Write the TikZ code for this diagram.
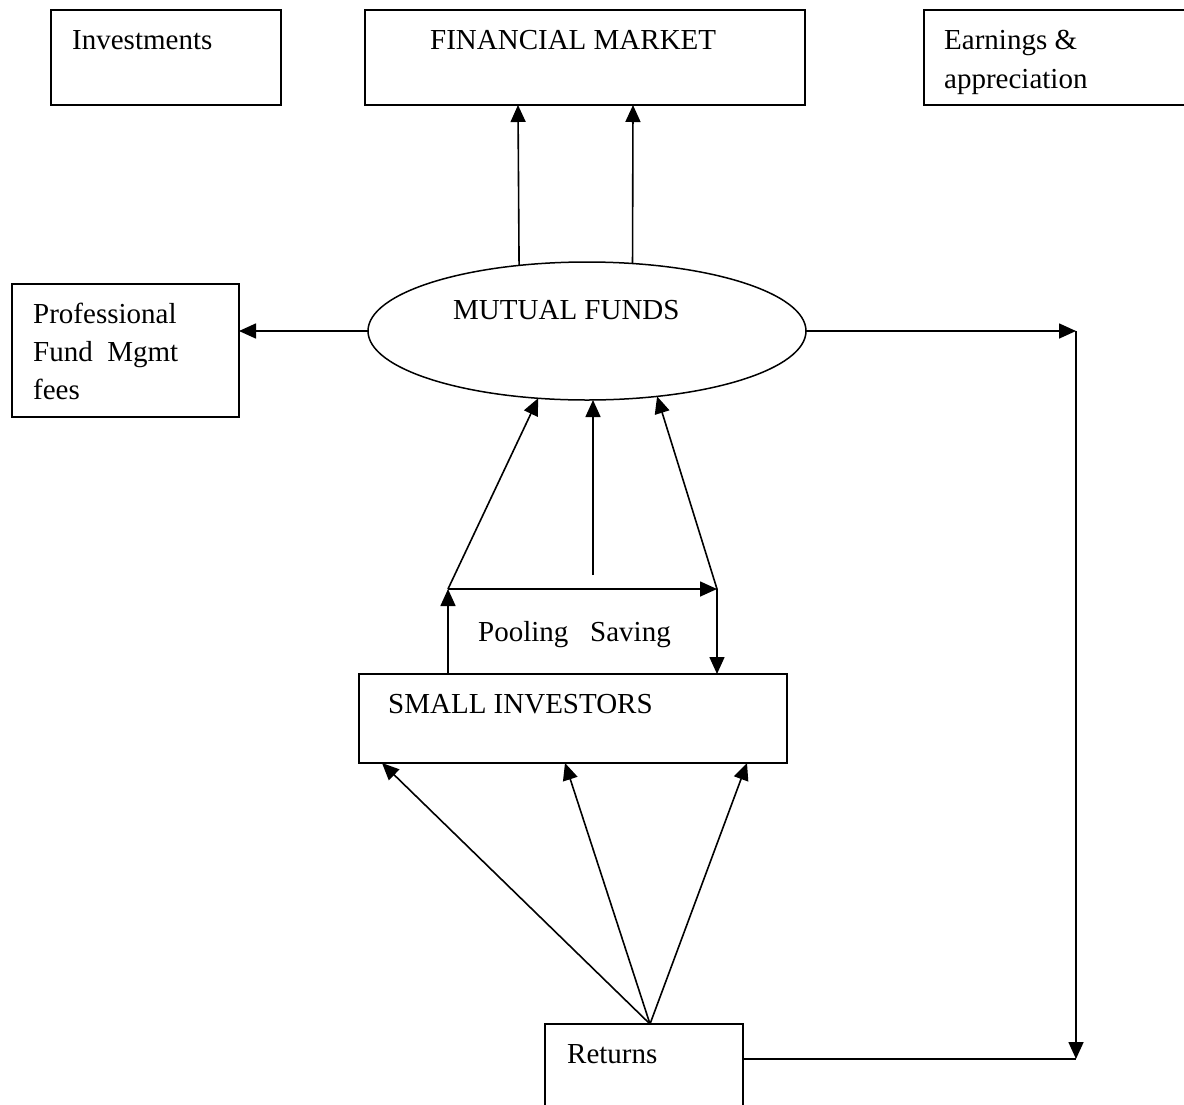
\documentclass[tikz,border=0pt]{standalone}
\usepackage{fontspec}
\setmainfont{Liberation Serif}
\usetikzlibrary{shapes.geometric,arrows.meta}

\begin{document}
\begin{tikzpicture}[x=1pt,y=-1pt,
  box/.style={draw,line width=1.6pt,anchor=north west,inner sep=0pt,outer sep=0pt},
  lbl/.style={anchor=base west,inner sep=0pt,font=\fontsize{29}{39}\selectfont},
  arr/.style={line width=1.6pt,-{Triangle[length=17pt,width=15pt]}},
  ln/.style={line width=1.6pt}]
           \useasboundingbox (0,0) rectangle (1184,1104);
           % top row
           \node[box,minimum width=230pt,minimum height=95pt] (inv) at (51,10) {};
           \node[lbl] (invt) at (72,49) {Investments};
           \node[box,minimum width=440pt,minimum height=95pt] (fm) at (365,10) {};
           \node[lbl] (fmt) at (430,49) {FINANCIAL MARKET};
           \node[box,minimum width=262pt,minimum height=95pt] (earn) at (924,10) {};
           \node[lbl] (earn1) at (944,49) {Earnings \&};
           \node[lbl] (earn2) at (944,88) {appreciation};
           % fees box
           \node[box,minimum width=227pt,minimum height=133pt] (prof) at (12,284) {};
           \node[lbl] (prof1) at (33,323) {Professional};
           \node[lbl] (prof2) at (33,361) {Fund~~Mgmt};
           \node[lbl] (prof3) at (33,399) {fees};
           % mutual funds
           \node[draw,ellipse,line width=1.5pt,minimum width=438pt,minimum height=138pt,
                 inner sep=0pt,outer sep=0pt] (mf) at (587,331) {};
           \node[lbl] (mft) at (453,319) {MUTUAL FUNDS};
           % investors and returns
           \node[box,minimum width=428pt,minimum height=89pt] (small) at (359,674) {};
           \node[lbl] (smallt) at (388,713) {SMALL INVESTORS};
           \node[lbl] (pool) at (478,641) {Pooling~~~Saving};
           \node[box,minimum width=198pt,minimum height=90pt] (ret) at (545,1024) {};
           \node[lbl] (rett) at (567,1063) {Returns};
           \coordinate (pl) at (448,589);
           \coordinate (pr) at (717,589);
           \coordinate (pm) at (593,575);
           \coordinate (rt) at (650,1024);
           \coordinate (c1) at (1076,331);
           \coordinate (c2) at (1076,1059);
           % arrows
           \draw[arr] (mf.136) -- ([xshift=-67pt]fm.south);
           \draw[arr] (mf.56) -- ([xshift=48pt]fm.south);
           \draw[arr] (mf.west) -- (mf.west -| prof.east);
           \draw[arr] (mf.east) -- (c1);
           \draw[arr] (c1) -- (c2);
           \draw[ln] (c2 -| ret.east) -- (c2);
           \draw[arr] (small.north -| pl) -- (pl);
           \draw[arr] (pl) -- (pr);
           \draw[arr] (pl) -- (mf.234);
           \draw[arr] (pm) -- (pm |- mf.south);
           \draw[arr] (pr) -- (mf.317);
           \draw[arr] (pr) -- (pr |- small.north);
           \draw[arr] (rt) -- ([xshift=-191pt]small.south);
           \draw[arr] (rt) -- ([xshift=-8pt]small.south);
           \draw[arr] (rt) -- ([xshift=174pt]small.south);
         \end{tikzpicture}
\end{document}
